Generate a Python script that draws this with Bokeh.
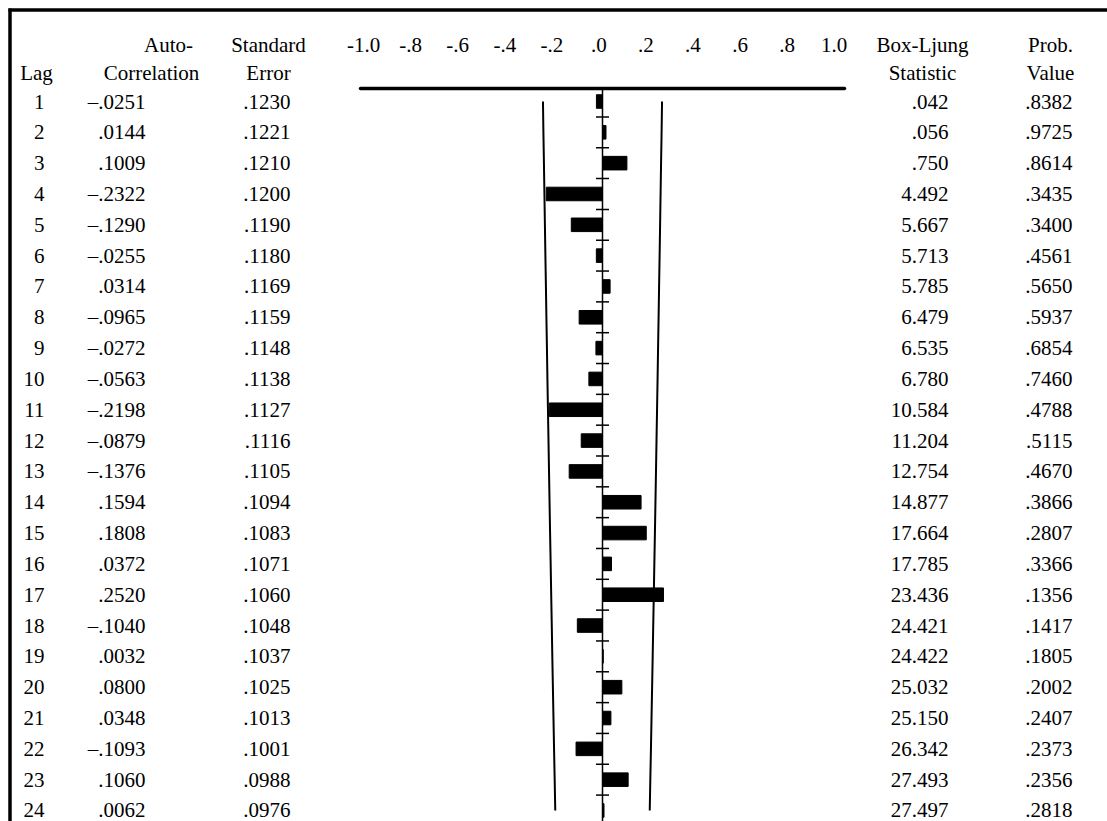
from bokeh.plotting import figure
from bokeh.models import Range1d, ColumnDataSource
from bokeh.embed import file_html
from bokeh.resources import INLINE
from bokeh.core.properties import value

# ---- data ----
lags = list(range(1, 25))
acf = [-0.0251, 0.0144, 0.1009, -0.2322, -0.1290, -0.0255, 0.0314, -0.0965, -0.0272, -0.0563,
       -0.2198, -0.0879, -0.1376, 0.1594, 0.1808, 0.0372, 0.2520, -0.1040, 0.0032, 0.0800,
       0.0348, -0.1093, 0.1060, 0.0062]
se = [0.1230, 0.1221, 0.1210, 0.1200, 0.1190, 0.1180, 0.1169, 0.1159, 0.1148, 0.1138,
      0.1127, 0.1116, 0.1105, 0.1094, 0.1083, 0.1071, 0.1060, 0.1048, 0.1037, 0.1025,
      0.1013, 0.1001, 0.0988, 0.0976]
box_ljung = [0.042, 0.056, 0.750, 4.492, 5.667, 5.713, 5.785, 6.479, 6.535, 6.780,
             10.584, 11.204, 12.754, 14.877, 17.664, 17.785, 23.436, 24.421, 24.422, 25.032,
             25.150, 26.342, 27.493, 27.497]
prob = [0.8382, 0.9725, 0.8614, 0.3435, 0.3400, 0.4561, 0.5650, 0.5937, 0.6854, 0.7460,
        0.4788, 0.5115, 0.4670, 0.3866, 0.2807, 0.3366, 0.1356, 0.1417, 0.1805, 0.2002,
        0.2407, 0.2373, 0.2356, 0.2818]
axis_ticks = [-1.0, -0.8, -0.6, -0.4, -0.2, 0.0, 0.2, 0.4, 0.6, 0.8, 1.0]
axis_labels = ["-1.0", "-.8", "-.6", "-.4", "-.2", ".0", ".2", ".4", ".6", ".8", "1.0"]


def fmt(v, d):
    s = f"{abs(v):.{d}f}"
    if s.startswith("0"):
        s = s[1:]
    return ("\u2013" if v < 0 else "") + s


FONT = value("Liberation Serif")
FS = "21px"

W, H = 1107, 821
ZX = 602.0           # pixel of zero correlation
PX = 242.0           # pixels per correlation unit
ROW = 30.826         # pixels per lag row
R1 = 101.0           # pixel of lag 1 row
x0 = -ZX / PX
x1 = (W - ZX) / PX
y_top = 1 - R1 / ROW
y_bot = 1 + (H - R1) / ROW

p = figure(width=W, height=H, output_backend="svg", toolbar_location=None,
           x_range=Range1d(x0, x1), y_range=Range1d(y_bot, y_top),
           min_border=0, min_border_left=0, min_border_right=0,
           min_border_top=0, min_border_bottom=0)
p.axis.visible = False
p.grid.visible = False
p.outline_line_color = None
p.background_fill_color = "white"
p.border_fill_color = "white"


def colx(px):
    return (px - ZX) / PX


def rowy(py):
    return 1 - (R1 - py) / ROW


# border (top and left)
p.segment(x0=[colx(8), colx(9.5)], y0=[rowy(9.5), rowy(8)],
          x1=[x1, colx(9.5)], y1=[rowy(9.5), y_bot],
          line_color="black", line_width=3.5)

# headers
hdr1 = rowy(44)
hdr2 = rowy(72)
hx = [colx(168), colx(268), colx(922), colx(1050)]
p.text(x=hx, y=[hdr1] * 4, text=["Auto-", "Standard", "Box-Ljung", "Prob."],
       text_font=FONT, text_font_size=FS, text_align="center", text_baseline="middle", text_color="black")
hx2 = [colx(36), colx(151), colx(268), colx(922), colx(1050)]
p.text(x=hx2, y=[hdr2] * 5, text=["Lag", "Correlation", "Error", "Statistic", "Value"],
       text_font=FONT, text_font_size=FS, text_align="center", text_baseline="middle", text_color="black")

# axis labels (label spacing slightly tighter than the bar scale, as in the original)
LBL = 0.972
p.text(x=[t * LBL - 0.015 for t in axis_ticks], y=[hdr1] * len(axis_ticks), text=axis_labels,
       text_font=FONT, text_font_size=FS, text_align="center", text_baseline="middle", text_color="black")

# axis line
axis_y = rowy(88)
p.line(x=[-1.0, 1.0], y=[axis_y, axis_y], line_color="black", line_width=3.5, line_cap="round")

# zero line
p.segment(x0=[0], y0=[axis_y], x1=[0], y1=[y_bot], line_color="black", line_width=1.5)
# ticks between rows
tick_y = [l + 0.5 for l in lags[:-1]]
p.segment(x0=[-6.5 / PX] * len(tick_y), y0=tick_y, x1=[6.5 / PX] * len(tick_y), y1=tick_y,
          line_color="black", line_width=1.5)

# confidence limits
p.line(x=[-2 * s for s in se], y=lags, line_color="black", line_width=2)
p.line(x=[2 * s for s in se], y=lags, line_color="black", line_width=2)

# bars
src = ColumnDataSource(dict(
    y=lags,
    left=[min(0, a) for a in acf],
    right=[max(0, a) for a in acf],
))
p.hbar(y="y", left="left", right="right", height=0.44, source=src,
       fill_color="black", line_color="black", line_width=1)

# table columns
tbl = ColumnDataSource(dict(
    y=lags,
    lag=[str(l) for l in lags],
    acf=[fmt(a, 4) for a in acf],
    se=[fmt(s, 4) for s in se],
    bl=[fmt(b, 3) for b in box_ljung],
    pv=[fmt(v, 4) for v in prob],
    xl=[colx(44)] * 24,
    xa=[colx(145)] * 24,
    xs=[colx(290)] * 24,
    xb=[colx(948)] * 24,
    xp=[colx(1072)] * 24,
))
for col, xcol in [("lag", "xl"), ("acf", "xa"), ("se", "xs"), ("bl", "xb"), ("pv", "xp")]:
    p.text(x=xcol, y="y", text=col, source=tbl, text_font=FONT, text_font_size=FS,
           text_align="right", text_baseline="middle", text_color="black")

open("out.html", "w").write(file_html(p, INLINE))
